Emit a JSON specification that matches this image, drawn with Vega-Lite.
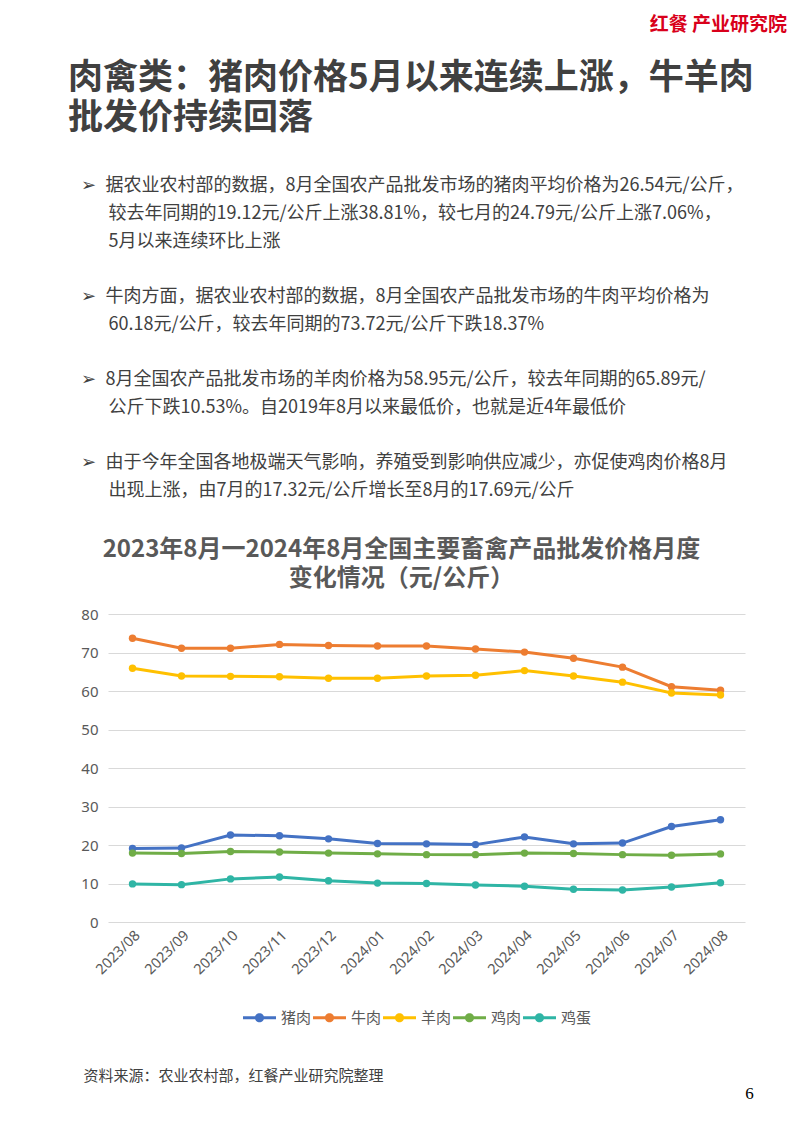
{
  "$schema": "https://vega.github.io/schema/vega-lite/v6.json",
  "autosize": {"type": "none"},
  "padding": {"left": 108, "top": 594, "right": 57, "bottom": 539},
  "background": "white",
  "bounds": "flush",
  "spacing": 0,
  "config": {"view": {"stroke": null}, "font": "Noto Sans CJK SC"},
  "title": {
    "text": "红餐 产业研究院",
    "anchor": "end",
    "frame": "group",
    "dx": 42,
    "offset": 26,
    "fontSize": 19,
    "fontWeight": "bold",
    "color": "#D9001B",
    "font": "Noto Sans CJK SC"
  },
  "vconcat": [
    {
      "width": 637,
      "height": 0,
      "data": {"values": []},
      "mark": "point",
      "title": {
        "text": ["肉禽类：猪肉价格5月以来连续上涨，牛羊肉", "批发价持续回落"],
        "subtitle": [
          "\u200B\u2002\u2005➢\u2002据农业农村部的数据，8月全国农产品批发市场的猪肉平均价格为26.54元/公斤，",
          "\u200B\u2003\u2003\u2005较去年同期的19.12元/公斤上涨38.81%，较七月的24.79元/公斤上涨7.06%，",
          "\u200B\u2003\u2003\u20055月以来连续环比上涨",
          "\u200B",
          "\u200B\u2002\u2005➢\u2002牛肉方面，据农业农村部的数据，8月全国农产品批发市场的牛肉平均价格为",
          "\u200B\u2003\u2003\u200560.18元/公斤，较去年同期的73.72元/公斤下跌18.37%",
          "\u200B",
          "\u200B\u2002\u2005➢\u20028月全国农产品批发市场的羊肉价格为58.95元/公斤，较去年同期的65.89元/",
          "\u200B\u2003\u2003\u2005公斤下跌10.53%。自2019年8月以来最低价，也就是近4年最低价",
          "\u200B",
          "\u200B\u2002\u2005➢\u2002由于今年全国各地极端天气影响，养殖受到影响供应减少，亦促使鸡肉价格8月",
          "\u200B\u2003\u2003\u2005出现上涨，由7月的17.32元/公斤增长至8月的17.69元/公斤"
        ],
        "anchor": "start",
        "frame": "group",
        "dx": -40,
        "offset": 94,
        "font": "Noto Sans CJK SC",
        "fontSize": 35,
        "fontWeight": "bold",
        "color": "#404040",
        "lineHeight": 40,
        "subtitleFont": "Noto Sans CJK SC",
        "subtitleFontSize": 18,
        "subtitleColor": "#404040",
        "subtitleLineHeight": 27.7,
        "subtitlePadding": 41
      }
    },
    {
      "width": 637,
      "height": 308,
      "title": {
        "text": ["2023年8月一2024年8月全国主要畜禽产品批发价格月度", "变化情况（元/公斤）"],
        "anchor": "middle",
        "dx": -25,
        "offset": 16,
        "font": "Noto Sans CJK SC",
        "fontSize": 24,
        "fontWeight": "bold",
        "color": "#595959",
        "lineHeight": 29
      },
      "data": {"values": [
        {"month": "2023/08", "type": "猪肉", "price": 19.12},
        {"month": "2023/09", "type": "猪肉", "price": 19.2},
        {"month": "2023/10", "type": "猪肉", "price": 22.6},
        {"month": "2023/11", "type": "猪肉", "price": 22.4},
        {"month": "2023/12", "type": "猪肉", "price": 21.6},
        {"month": "2024/01", "type": "猪肉", "price": 20.4},
        {"month": "2024/02", "type": "猪肉", "price": 20.3},
        {"month": "2024/03", "type": "猪肉", "price": 20.1},
        {"month": "2024/04", "type": "猪肉", "price": 22.1},
        {"month": "2024/05", "type": "猪肉", "price": 20.3},
        {"month": "2024/06", "type": "猪肉", "price": 20.5},
        {"month": "2024/07", "type": "猪肉", "price": 24.79},
        {"month": "2024/08", "type": "猪肉", "price": 26.54},
        {"month": "2023/08", "type": "牛肉", "price": 73.72},
        {"month": "2023/09", "type": "牛肉", "price": 71.1},
        {"month": "2023/10", "type": "牛肉", "price": 71.1},
        {"month": "2023/11", "type": "牛肉", "price": 72.1},
        {"month": "2023/12", "type": "牛肉", "price": 71.8},
        {"month": "2024/01", "type": "牛肉", "price": 71.7},
        {"month": "2024/02", "type": "牛肉", "price": 71.7},
        {"month": "2024/03", "type": "牛肉", "price": 70.9},
        {"month": "2024/04", "type": "牛肉", "price": 70.1},
        {"month": "2024/05", "type": "牛肉", "price": 68.5},
        {"month": "2024/06", "type": "牛肉", "price": 66.2},
        {"month": "2024/07", "type": "牛肉", "price": 61.1},
        {"month": "2024/08", "type": "牛肉", "price": 60.18},
        {"month": "2023/08", "type": "羊肉", "price": 65.89},
        {"month": "2023/09", "type": "羊肉", "price": 63.9},
        {"month": "2023/10", "type": "羊肉", "price": 63.8},
        {"month": "2023/11", "type": "羊肉", "price": 63.7},
        {"month": "2023/12", "type": "羊肉", "price": 63.3},
        {"month": "2024/01", "type": "羊肉", "price": 63.3},
        {"month": "2024/02", "type": "羊肉", "price": 63.9},
        {"month": "2024/03", "type": "羊肉", "price": 64.1},
        {"month": "2024/04", "type": "羊肉", "price": 65.3},
        {"month": "2024/05", "type": "羊肉", "price": 63.9},
        {"month": "2024/06", "type": "羊肉", "price": 62.3},
        {"month": "2024/07", "type": "羊肉", "price": 59.5},
        {"month": "2024/08", "type": "羊肉", "price": 58.95},
        {"month": "2023/08", "type": "鸡肉", "price": 17.9},
        {"month": "2023/09", "type": "鸡肉", "price": 17.8},
        {"month": "2023/10", "type": "鸡肉", "price": 18.3},
        {"month": "2023/11", "type": "鸡肉", "price": 18.2},
        {"month": "2023/12", "type": "鸡肉", "price": 17.9},
        {"month": "2024/01", "type": "鸡肉", "price": 17.7},
        {"month": "2024/02", "type": "鸡肉", "price": 17.5},
        {"month": "2024/03", "type": "鸡肉", "price": 17.5},
        {"month": "2024/04", "type": "鸡肉", "price": 17.9},
        {"month": "2024/05", "type": "鸡肉", "price": 17.8},
        {"month": "2024/06", "type": "鸡肉", "price": 17.5},
        {"month": "2024/07", "type": "鸡肉", "price": 17.32},
        {"month": "2024/08", "type": "鸡肉", "price": 17.69},
        {"month": "2023/08", "type": "鸡蛋", "price": 9.9},
        {"month": "2023/09", "type": "鸡蛋", "price": 9.7},
        {"month": "2023/10", "type": "鸡蛋", "price": 11.2},
        {"month": "2023/11", "type": "鸡蛋", "price": 11.7},
        {"month": "2023/12", "type": "鸡蛋", "price": 10.7},
        {"month": "2024/01", "type": "鸡蛋", "price": 10.1},
        {"month": "2024/02", "type": "鸡蛋", "price": 10.0},
        {"month": "2024/03", "type": "鸡蛋", "price": 9.6},
        {"month": "2024/04", "type": "鸡蛋", "price": 9.3},
        {"month": "2024/05", "type": "鸡蛋", "price": 8.5},
        {"month": "2024/06", "type": "鸡蛋", "price": 8.3},
        {"month": "2024/07", "type": "鸡蛋", "price": 9.1},
        {"month": "2024/08", "type": "鸡蛋", "price": 10.2}
      ]},
      "encoding": {
        "x": {
          "field": "month",
          "type": "ordinal",
          "sort": null,
          "scale": {"type": "point", "padding": 0.5},
          "axis": {
            "title": "资料来源：农业农村部，红餐产业研究院整理",
            "titleX": -25,
            "titleY": 153,
            "titleAlign": "left",
            "titleAnchor": "start",
            "titleBaseline": "middle",
            "titleFont": "Noto Sans CJK SC",
            "titleFontSize": 15,
            "titleFontWeight": "normal",
            "titleColor": "#404040",
            "labelAngle": -45,
            "labelFont": "Noto Sans",
            "labelFontSize": 14.5,
            "labelColor": "#595959",
            "labelPadding": 6,
            "domain": false,
            "ticks": false,
            "grid": false
          }
        },
        "y": {
          "field": "price",
          "type": "quantitative",
          "scale": {"domain": [0, 80], "nice": false},
          "axis": {
            "values": [0, 10, 20, 30, 40, 50, 60, 70, 80],
            "title": "6",
            "titleAngle": 0,
            "titleX": 641,
            "titleY": 479,
            "titleAlign": "center",
            "titleBaseline": "middle",
            "titleFont": "Liberation Serif",
            "titleFontSize": 17,
            "titleFontWeight": "normal",
            "titleColor": "#000000",
            "domain": false,
            "ticks": false,
            "gridColor": "#d9d9d9",
            "gridWidth": 1,
            "labelFont": "Noto Sans",
            "labelFontSize": 15,
            "labelColor": "#595959",
            "labelPadding": 10
          }
        }
      },
      "layer": [
        {
          "mark": {"type": "line", "strokeWidth": 3},
          "encoding": {
            "stroke": {
              "field": "type",
              "type": "nominal",
              "scale": {"domain": ["猪肉", "牛肉", "羊肉", "鸡肉", "鸡蛋"], "range": ["#4472C4", "#ED7D31", "#FFC000", "#70AD47", "#2FB5A5"]},
              "legend": {
                "orient": "none",
                "legendX": 135,
                "legendY": 407,
                "direction": "horizontal",
                "columns": 5,
                "title": null,
                "symbolType": "M-1,-0.09L1,-0.09L1,0.09L-1,0.09Z M0.28,0A0.28,0.28,0,1,1,-0.28,0A0.28,0.28,0,1,1,0.28,0Z",
                "symbolSize": 1089,
                "symbolStrokeWidth": 0,
                "symbolOpacity": 1,
                "labelFont": "Noto Sans CJK SC",
                "labelFontSize": 15,
                "labelColor": "#595959",
                "labelOffset": 5,
                "columnPadding": 1
              }
            }
          }
        },
        {
          "mark": {"type": "point", "filled": true, "size": 55, "opacity": 1},
          "encoding": {
            "fill": {
              "field": "type",
              "type": "nominal",
              "scale": {"domain": ["猪肉", "牛肉", "羊肉", "鸡肉", "鸡蛋"], "range": ["#4472C4", "#ED7D31", "#FFC000", "#70AD47", "#2FB5A5"]},
              "legend": {
                "orient": "none",
                "legendX": 135,
                "legendY": 407,
                "direction": "horizontal",
                "columns": 5,
                "title": null,
                "symbolType": "M-1,-0.09L1,-0.09L1,0.09L-1,0.09Z M0.28,0A0.28,0.28,0,1,1,-0.28,0A0.28,0.28,0,1,1,0.28,0Z",
                "symbolSize": 1089,
                "symbolStrokeWidth": 0,
                "symbolOpacity": 1,
                "labelFont": "Noto Sans CJK SC",
                "labelFontSize": 15,
                "labelColor": "#595959",
                "labelOffset": 5,
                "columnPadding": 1
              }
            }
          }
        }
      ]
    }
  ]
}
